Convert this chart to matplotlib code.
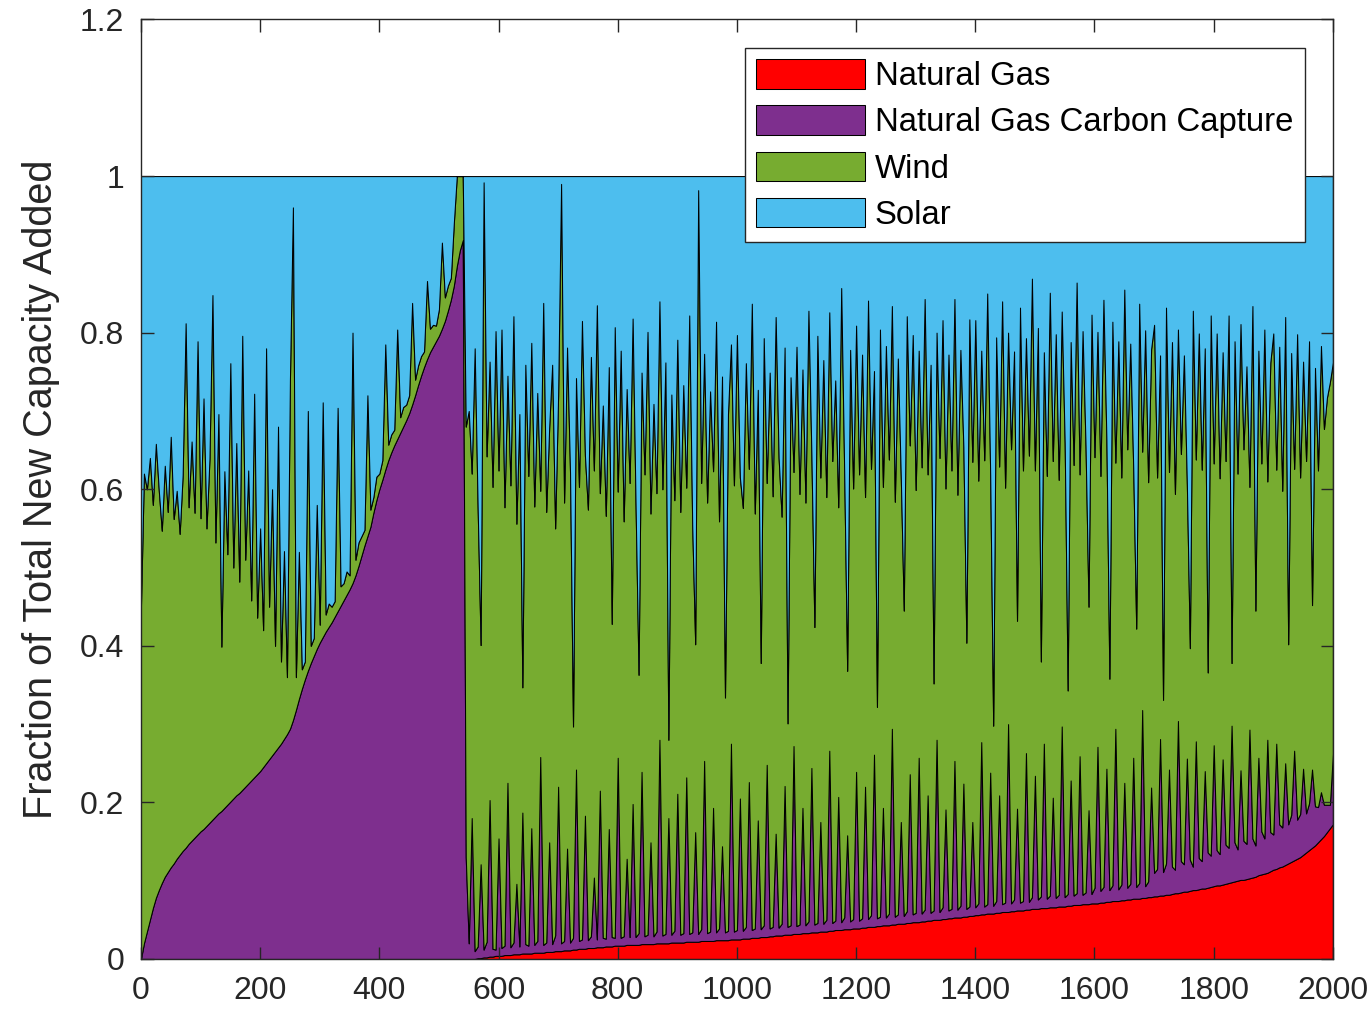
import numpy as np
import matplotlib
matplotlib.use("Agg")
import matplotlib.pyplot as plt

plt.rcParams['font.family'] = ['Liberation Sans', 'DejaVu Sans']

# ----- Data (scenario index, step 5) -----
scenario = np.arange(0, 2001, 5)

# natural gas share, zero until ~560
natural_gas = [0.0] * 113 + [
    0.001, 0.001, 0.002, 0.002, 0.003, 0.003, 0.004,
    0.004, 0.004, 0.005, 0.005, 0.005, 0.006, 0.006, 0.006, 0.007, 0.007, 0.007, 0.007, 0.008, 0.008, 0.008, 0.008, 0.009, 0.009, 0.009, 0.010,
    0.010, 0.010, 0.011, 0.011, 0.011, 0.012, 0.012, 0.013, 0.013, 0.013, 0.014, 0.014, 0.014, 0.015, 0.015, 0.015, 0.016, 0.016, 0.016, 0.017,
    0.017, 0.017, 0.017, 0.018, 0.018, 0.018, 0.018, 0.018, 0.019, 0.019, 0.019, 0.019, 0.019, 0.020, 0.020, 0.020, 0.020, 0.020, 0.021, 0.021,
    0.021, 0.021, 0.021, 0.022, 0.022, 0.022, 0.022, 0.022, 0.023, 0.023, 0.023, 0.023, 0.023, 0.024, 0.024, 0.024, 0.024, 0.024, 0.025, 0.025,
    0.025, 0.025, 0.026, 0.026, 0.026, 0.027, 0.027, 0.027, 0.028, 0.028, 0.028, 0.029, 0.029, 0.030, 0.030, 0.030, 0.031, 0.031, 0.031, 0.032,
    0.032, 0.032, 0.033, 0.033, 0.033, 0.034, 0.034, 0.034, 0.035, 0.035, 0.035, 0.036, 0.036, 0.037, 0.037, 0.037, 0.038, 0.038, 0.038, 0.039,
    0.039, 0.039, 0.040, 0.040, 0.041, 0.041, 0.041, 0.042, 0.042, 0.043, 0.043, 0.043, 0.044, 0.044, 0.045, 0.045, 0.045, 0.046, 0.046, 0.047,
    0.047, 0.047, 0.048, 0.048, 0.049, 0.049, 0.050, 0.050, 0.050, 0.051, 0.051, 0.052, 0.052, 0.053, 0.053, 0.053, 0.054, 0.054, 0.055, 0.055,
    0.056, 0.056, 0.057, 0.057, 0.058, 0.058, 0.058, 0.059, 0.059, 0.060, 0.060, 0.060, 0.061, 0.061, 0.062, 0.062, 0.062, 0.063, 0.063, 0.064,
    0.064, 0.064, 0.065, 0.065, 0.065, 0.066, 0.066, 0.066, 0.067, 0.067, 0.067, 0.068, 0.068, 0.069, 0.069, 0.069, 0.070, 0.070, 0.070, 0.071,
    0.071, 0.071, 0.072, 0.072, 0.073, 0.073, 0.074, 0.074, 0.074, 0.075, 0.075, 0.076, 0.076, 0.077, 0.077, 0.077, 0.078, 0.078, 0.079, 0.079,
    0.080, 0.080, 0.081, 0.081, 0.082, 0.082, 0.083, 0.084, 0.084, 0.085, 0.086, 0.086, 0.087, 0.088, 0.088, 0.089, 0.090, 0.090, 0.091, 0.092,
    0.093, 0.094, 0.094, 0.095, 0.096, 0.097, 0.098, 0.099, 0.100, 0.101, 0.101, 0.102, 0.103, 0.104, 0.105, 0.107, 0.108, 0.109, 0.110, 0.112,
    0.114, 0.115, 0.117, 0.118, 0.120, 0.122, 0.124, 0.126, 0.128, 0.130, 0.133, 0.136, 0.139, 0.142, 0.145, 0.149, 0.153, 0.157, 0.162, 0.167,
    0.172,
]

gas_ccs = [
    0.000, 0.020, 0.035, 0.050, 0.065, 0.078, 0.088, 0.097, 0.105, 0.111, 0.117, 0.122, 0.128, 0.133, 0.138, 0.142, 0.147, 0.151, 0.155, 0.159,
    0.163, 0.166, 0.170, 0.174, 0.178, 0.182, 0.186, 0.189, 0.193, 0.197, 0.201, 0.205, 0.209, 0.212, 0.216, 0.220, 0.224, 0.228, 0.232, 0.236,
    0.240, 0.245, 0.250, 0.255, 0.260, 0.265, 0.270, 0.275, 0.281, 0.287, 0.294, 0.305, 0.318, 0.332, 0.345, 0.357, 0.368, 0.378, 0.387, 0.396,
    0.404, 0.411, 0.418, 0.424, 0.430, 0.437, 0.444, 0.451, 0.458, 0.465, 0.472, 0.480, 0.490, 0.502, 0.515, 0.528, 0.540, 0.552, 0.570, 0.586,
    0.600, 0.612, 0.625, 0.637, 0.647, 0.656, 0.664, 0.672, 0.680, 0.688, 0.697, 0.708, 0.720, 0.733, 0.745, 0.756, 0.766, 0.775, 0.782, 0.789,
    0.796, 0.805, 0.815, 0.828, 0.842, 0.860, 0.885, 0.905, 0.918, 0.130, 0.020, 0.180, 0.010, 0.015, 0.120, 0.010, 0.020, 0.200, 0.010, 0.008,
    0.150, 0.010, 0.012, 0.220, 0.010, 0.015, 0.090, 0.010, 0.180, 0.012, 0.010, 0.160, 0.010, 0.015, 0.250, 0.010, 0.012, 0.140, 0.010, 0.020,
    0.210, 0.010, 0.012, 0.130, 0.010, 0.015, 0.230, 0.010, 0.012, 0.170, 0.010, 0.015, 0.090, 0.010, 0.200, 0.012, 0.010, 0.150, 0.012, 0.010,
    0.240, 0.010, 0.012, 0.110, 0.010, 0.180, 0.010, 0.015, 0.220, 0.010, 0.012, 0.130, 0.010, 0.015, 0.260, 0.010, 0.012, 0.160, 0.010, 0.015,
    0.190, 0.010, 0.012, 0.210, 0.010, 0.012, 0.140, 0.010, 0.015, 0.230, 0.010, 0.012, 0.170, 0.010, 0.015, 0.120, 0.010, 0.012, 0.250, 0.010,
    0.012, 0.180, 0.010, 0.015, 0.200, 0.010, 0.012, 0.150, 0.010, 0.015, 0.220, 0.010, 0.012, 0.130, 0.010, 0.015, 0.190, 0.010, 0.012, 0.240,
    0.010, 0.012, 0.160, 0.010, 0.015, 0.210, 0.010, 0.012, 0.140, 0.010, 0.015, 0.230, 0.010, 0.012, 0.170, 0.010, 0.015, 0.120, 0.010, 0.012,
    0.200, 0.010, 0.012, 0.180, 0.010, 0.015, 0.220, 0.010, 0.012, 0.150, 0.010, 0.015, 0.250, 0.010, 0.012, 0.130, 0.010, 0.015, 0.190, 0.010,
    0.012, 0.210, 0.010, 0.015, 0.160, 0.010, 0.012, 0.230, 0.010, 0.015, 0.140, 0.010, 0.012, 0.200, 0.010, 0.015, 0.170, 0.010, 0.012, 0.120,
    0.010, 0.015, 0.220, 0.010, 0.012, 0.180, 0.010, 0.015, 0.150, 0.010, 0.012, 0.240, 0.010, 0.015, 0.130, 0.010, 0.012, 0.200, 0.010, 0.015,
    0.170, 0.012, 0.015, 0.210, 0.012, 0.015, 0.140, 0.012, 0.015, 0.230, 0.012, 0.015, 0.160, 0.012, 0.015, 0.190, 0.012, 0.015, 0.120, 0.012,
    0.020, 0.200, 0.015, 0.020, 0.170, 0.015, 0.020, 0.220, 0.015, 0.020, 0.150, 0.015, 0.020, 0.180, 0.015, 0.020, 0.240, 0.015, 0.020, 0.140,
    0.030, 0.035, 0.200, 0.030, 0.040, 0.160, 0.035, 0.030, 0.220, 0.040, 0.035, 0.170, 0.040, 0.030, 0.190, 0.040, 0.035, 0.150, 0.045, 0.040,
    0.180, 0.045, 0.040, 0.160, 0.050, 0.045, 0.200, 0.050, 0.040, 0.140, 0.050, 0.045, 0.190, 0.050, 0.040, 0.150, 0.055, 0.045, 0.170, 0.050,
    0.045, 0.160, 0.055, 0.050, 0.130, 0.050, 0.060, 0.140, 0.050, 0.055, 0.110, 0.050, 0.060, 0.100, 0.050, 0.045, 0.060, 0.040, 0.035, 0.030,
    0.090,
]

wind = [
    0.45, 0.60, 0.565, 0.59, 0.515, 0.58, 0.51, 0.45, 0.525, 0.46, 0.55, 0.44, 0.47, 0.41, 0.48, 0.67, 0.43, 0.51, 0.415, 0.63,
    0.40, 0.55, 0.38, 0.465, 0.67, 0.35, 0.51, 0.21, 0.43, 0.32, 0.56, 0.295, 0.45, 0.27, 0.58, 0.29, 0.40, 0.23, 0.49, 0.20,
    0.31, 0.175, 0.53, 0.195, 0.34, 0.135, 0.41, 0.105, 0.24, 0.073, 0.446, 0.655, 0.042, 0.188, 0.025, 0.023, 0.332, 0.022, 0.023, 0.184,
    0.023, 0.30, 0.022, 0.03, 0.02, 0.02, 0.26, 0.025, 0.022, 0.03, 0.018, 0.32, 0.02, 0.03, 0.025, 0.02, 0.18, 0.022, 0.02, 0.03,
    0.02, 0.025, 0.16, 0.02, 0.023, 0.02, 0.14, 0.02, 0.025, 0.02, 0.023, 0.13, 0.02, 0.025, 0.025, 0.02, 0.10, 0.03, 0.028, 0.02,
    0.034, 0.11, 0.03, 0.032, 0.028, 0.08, 0.115, 0.095, 0.082, 0.55, 0.68, 0.44, 0.77, 0.56, 0.28, 0.98, 0.62, 0.56, 0.59, 0.79,
    0.47, 0.79, 0.56, 0.52, 0.59, 0.80, 0.46, 0.68, 0.16, 0.74, 0.60, 0.62, 0.56, 0.70, 0.34, 0.82, 0.55, 0.53, 0.74, 0.52,
    0.50, 0.97, 0.56, 0.64, 0.60, 0.27, 0.50, 0.58, 0.79, 0.46, 0.55, 0.74, 0.52, 0.81, 0.38, 0.68, 0.54, 0.59, 0.40, 0.78,
    0.34, 0.75, 0.53, 0.60, 0.58, 0.62, 0.55, 0.33, 0.51, 0.59, 0.77, 0.42, 0.68, 0.56, 0.56, 0.57, 0.73, 0.10, 0.69, 0.55,
    0.58, 0.54, 0.70, 0.37, 0.79, 0.52, 0.24, 0.95, 0.57, 0.52, 0.55, 0.69, 0.43, 0.78, 0.52, 0.60, 0.30, 0.66, 0.51, 0.57,
    0.76, 0.41, 0.54, 0.72, 0.40, 0.80, 0.53, 0.55, 0.34, 0.75, 0.36, 0.71, 0.55, 0.66, 0.60, 0.52, 0.56, 0.26, 0.70, 0.35,
    0.74, 0.55, 0.56, 0.54, 0.78, 0.40, 0.38, 0.75, 0.44, 0.72, 0.54, 0.56, 0.59, 0.69, 0.37, 0.81, 0.57, 0.21, 0.73, 0.55,
    0.57, 0.57, 0.72, 0.37, 0.79, 0.57, 0.49, 0.27, 0.75, 0.41, 0.73, 0.58, 0.54, 0.53, 0.71, 0.44, 0.39, 0.76, 0.42, 0.74,
    0.54, 0.52, 0.57, 0.78, 0.41, 0.70, 0.29, 0.52, 0.58, 0.75, 0.41, 0.71, 0.56, 0.59, 0.53, 0.71, 0.43, 0.34, 0.75, 0.46,
    0.75, 0.54, 0.50, 0.57, 0.78, 0.38, 0.23, 0.72, 0.42, 0.77, 0.53, 0.50, 0.58, 0.70, 0.24, 0.76, 0.55, 0.53, 0.57, 0.79,
    0.39, 0.73, 0.30, 0.50, 0.54, 0.77, 0.43, 0.72, 0.53, 0.53, 0.58, 0.26, 0.56, 0.55, 0.78, 0.36, 0.72, 0.57, 0.26, 0.74,
    0.55, 0.53, 0.53, 0.75, 0.42, 0.27, 0.72, 0.34, 0.70, 0.52, 0.63, 0.56, 0.69, 0.37, 0.33, 0.74, 0.33, 0.71, 0.51, 0.56,
    0.70, 0.50, 0.49, 0.22, 0.71, 0.38, 0.67, 0.48, 0.50, 0.52, 0.65, 0.35, 0.27, 0.71, 0.36, 0.67, 0.50, 0.54, 0.23, 0.69,
    0.36, 0.66, 0.48, 0.52, 0.49, 0.68, 0.08, 0.64, 0.48, 0.57, 0.50, 0.61, 0.31, 0.68, 0.30, 0.52, 0.47, 0.65, 0.33, 0.60,
    0.64, 0.35, 0.61, 0.43, 0.57, 0.23, 0.59, 0.36, 0.62, 0.43, 0.52, 0.45, 0.59, 0.21, 0.56, 0.43, 0.57, 0.48, 0.52, 0.54,
    0.50,
]

# shares add to one; solar takes the rest
solar = np.clip(1 - (np.array(natural_gas) + np.array(gas_ccs) + np.array(wind)), 0, None)

labels = ['Natural Gas', 'Natural Gas Carbon Capture', 'Wind', 'Solar']
colors = ['#FF0000', '#7E2F8E', '#77AC30', '#4DBEEE']

fig = plt.figure(figsize=(13.71, 10.15), dpi=100)
ax = fig.add_axes([0.1028, 0.0552, 0.8694, 0.9256])

ax.stackplot(scenario, natural_gas, gas_ccs, wind, solar, labels=labels,
             colors=colors, edgecolor='black', linewidth=0.75)

ax.set_xlim(0, 2000)
ax.set_ylim(0, 1.2)
ax.set_xticks(np.arange(0, 2001, 200))
ax.set_yticks([0, 0.2, 0.4, 0.6, 0.8, 1.0, 1.2])
ax.set_yticklabels(['0', '0.2', '0.4', '0.6', '0.8', '1', '1.2'])

axis_color = '#262626'
for side in ax.spines.values():
    side.set_color(axis_color)
    side.set_linewidth(1.0)
ax.tick_params(direction='in', length=9, width=1, color=axis_color,
               labelcolor=axis_color, labelsize=23, top=True, right=True)
ax.tick_params(axis='x', pad=12)
ax.tick_params(axis='y', pad=12)

ax.set_ylabel('Fraction of Total New Capacity Added', fontsize=28.5,
              color=axis_color, labelpad=14)

leg = ax.legend(loc='upper right', bbox_to_anchor=(0.9765, 0.970),
                borderaxespad=0, fontsize=23.7, fancybox=False, framealpha=1,
                edgecolor=axis_color, handlelength=3.3, handleheight=1.0,
                handletextpad=0.3, labelspacing=0.4, borderpad=0.35)
leg.get_frame().set_linewidth(1.0)

fig.savefig('out.png', dpi=100)
